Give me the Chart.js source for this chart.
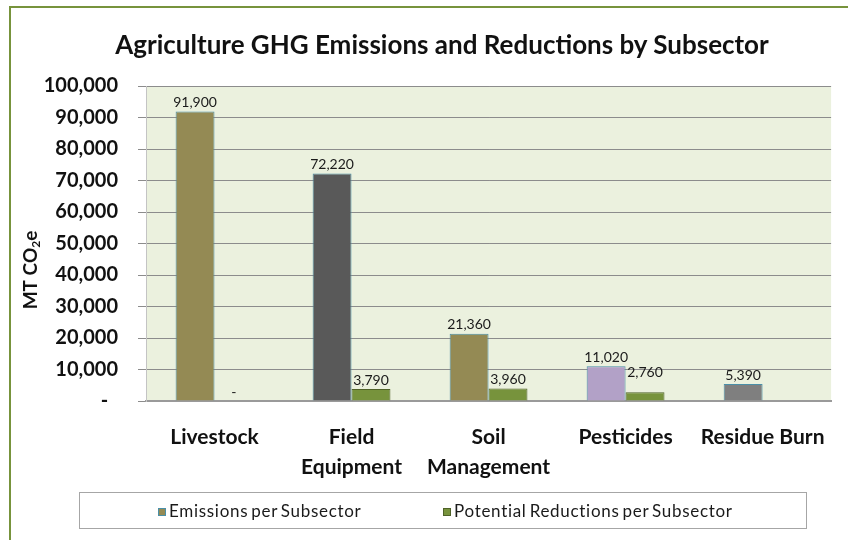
<!DOCTYPE html>
<html>
<head>
<meta charset="utf-8">
<title>Agriculture GHG Emissions and Reductions by Subsector</title>
<script src="https://cdn.jsdelivr.net/npm/chart.js@4.4.1/dist/chart.umd.min.js"></script>
<style>
  html, body { margin: 0; padding: 0; background: #fff; }
  #wrap { position: relative; width: 848px; height: 540px; overflow: hidden; font-family: Lato, "Open Sans", sans-serif; }
  #chart { position: absolute; left: 0; top: 0; }
  #frame { position: absolute; left: 9px; top: 6px; width: 860px; height: 560px; border-top: 2px solid #77933C; border-left: 2px solid #77933C; pointer-events: none; }
  #title { position: absolute; left: 0; width: 884px; top: 26px; text-align: center; white-space: nowrap; font-size: 26px; font-weight: bold; color: #111; line-height: 36px; }
  #legend { position: absolute; left: 79px; top: 492px; width: 726px; height: 35px; border: 1px solid #A6A6A6; font-size: 17px; color: #1a1a1a; letter-spacing: 0.7px; word-spacing: -2px; }
  .item { position: absolute; top: 0; line-height: 35px; white-space: nowrap; }
  .swatch { display: inline-block; width: 6px; height: 6px; border: 1px solid; margin-right: 3px; vertical-align: middle; position: relative; top: -1px; }
</style>
</head>
<body>
<div id="wrap">
  <canvas id="chart" width="848" height="540"></canvas>
  <div id="frame"></div>
  <div id="title"></div>
  <div id="legend">
    <span class="item" style="left:78px"><span class="swatch" id="sw-0"></span><span id="lg-0"></span></span>
    <span class="item" style="left:363px"><span class="swatch" id="sw-1"></span><span id="lg-1"></span></span>
  </div>
</div>
<script>
// --- data ---
const chartTitle = "Agriculture GHG Emissions and Reductions by Subsector";
const categories = ["Livestock", ["Field", "Equipment"], ["Soil", "Management"], "Pesticides", "Residue Burn"];
const seriesNames = ["Emissions per Subsector", "Potential Reductions per Subsector"];
const emissions = [91900, 72220, 21360, 11020, 5390];
const reductions = [0, 3790, 3960, 2760, null];
const yTickLabels = ["-  ", "10,000", "20,000", "30,000", "40,000", "50,000", "60,000", "70,000", "80,000", "90,000", "100,000"];

// --- colours ---
const emissionColors = ["#948A54", "#595959", "#948A54", "#B2A1C7", "#7F7F7F"];
const emissionBorder = "#4A8FA8";
const reductionColor = "#77933C";
const reductionBorder = "#4F6228";

const fmt = (v) => v.toLocaleString("en-US");

// plot area fill
const plotBackground = {
  id: "plotBackground",
  beforeDraw(chart) {
    const { ctx, chartArea: a } = chart;
    ctx.save();
    ctx.fillStyle = "#EBF1DE";
    ctx.fillRect(a.left, a.top, a.right - a.left, a.bottom - a.top);
    ctx.restore();
  },
};

// value labels above the bars ("-" for zero)
const labelLift = { "1-3": 11 };
const barLabels = {
  id: "barLabels",
  afterDatasetsDraw(chart) {
    const { ctx } = chart;
    ctx.save();
    ctx.font = "14px Lato";
    ctx.fillStyle = "#1a1a1a";
    ctx.textAlign = "center";
    ctx.textBaseline = "bottom";
    chart.data.datasets.forEach((ds, di) => {
      chart.getDatasetMeta(di).data.forEach((bar, i) => {
        const v = ds.data[i];
        if (v === null || v === undefined) return;
        const lift = labelLift[di + "-" + i] || 0;
        ctx.fillText(v === 0 ? "-" : fmt(v), bar.x, bar.y - 2 - lift);
      });
    });
    ctx.restore();
  },
};

// y axis title with subscript
const yAxisTitle = {
  id: "yAxisTitle",
  afterDraw(chart) {
    const { ctx } = chart;
    const big = "bold 19px Lato";
    const small = "bold 12px Lato";
    ctx.save();
    ctx.fillStyle = "#111";
    ctx.textBaseline = "middle";
    ctx.font = big;
    const w1 = ctx.measureText("MT CO").width;
    const w3 = ctx.measureText("e").width;
    ctx.font = small;
    const w2 = ctx.measureText("2").width;
    ctx.translate(31, 270);
    ctx.rotate(-Math.PI / 2);
    let x = -(w1 + w2 + w3) / 2;
    ctx.font = big;
    ctx.fillText("MT CO", x, 0);
    x += w1;
    ctx.font = small;
    ctx.fillText("2", x, 5);
    x += w2;
    ctx.font = big;
    ctx.fillText("e", x, 0);
    ctx.restore();
  },
};

const draw = () => {
  document.getElementById("title").textContent = chartTitle;

  // legend (HTML)
  seriesNames.forEach((name, i) => {
    document.getElementById("lg-" + i).textContent = name;
    const sw = document.getElementById("sw-" + i);
    sw.style.background = i === 0 ? emissionColors[0] : reductionColor;
    sw.style.borderColor = i === 0 ? emissionBorder : reductionBorder;
  });

  const tickFont = { family: "Lato", size: 20, weight: "bold" };
  new Chart(document.getElementById("chart"), {
    type: "bar",
    data: {
      labels: categories,
      datasets: [
        { label: seriesNames[0], data: emissions, backgroundColor: emissionColors, borderColor: emissionBorder, borderWidth: 1 },
        { label: seriesNames[1], data: reductions, backgroundColor: reductionColor, borderColor: reductionBorder, borderWidth: 1 },
      ],
    },
    options: {
      responsive: false,
      animation: false,
      devicePixelRatio: 1,
      layout: { padding: { left: 20, right: 15, top: 86, bottom: 48 } },
      datasets: { bar: { categoryPercentage: 0.568, barPercentage: 1 } },
      scales: {
        x: {
          grid: { display: false, drawTicks: false },
          border: { display: true, color: "#9A9A9A", width: 2 },
          ticks: {
            color: "#111",
            font: { family: "Lato", size: 21, weight: "bold", lineHeight: 1.4 },
            padding: 22,
            maxRotation: 0,
            autoSkip: false,
          },
          afterFit: (scale) => { scale.height = 91; },
        },
        y: {
          min: 0,
          max: 100000,
          grid: { color: "#8C8C8C", lineWidth: 1, tickLength: 8 },
          border: { display: true, color: "#C4C4C4" },
          ticks: {
            stepSize: 10000,
            padding: 20,
            color: "#111",
            font: tickFont,
            callback: (v, i) => yTickLabels[i],
          },
          afterFit: (scale) => { scale.width = 126; },
        },
      },
      plugins: {
        legend: { display: false },
        tooltip: { enabled: false },
        title: { display: false },
      },
    },
    plugins: [plotBackground, barLabels, yAxisTitle],
  });
};

document.addEventListener("DOMContentLoaded", () => {
  Promise.all([
    document.fonts.load("bold 20px Lato"),
    document.fonts.load("14px Lato"),
  ]).then(draw, draw);
});
</script>
</body>
</html>
